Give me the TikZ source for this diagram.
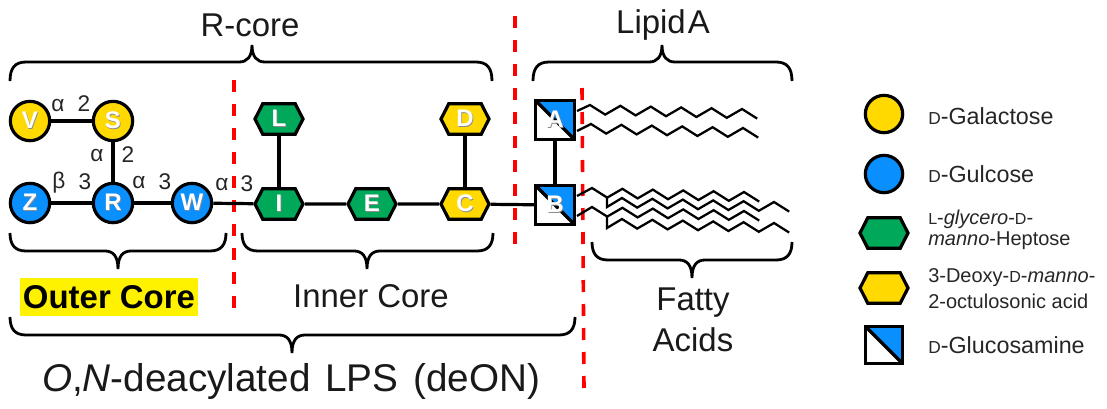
\documentclass[tikz,border=0pt]{standalone}
\usepackage{fontspec}
\setmainfont{Liberation Sans}
\usetikzlibrary{shapes.symbols,backgrounds}
\definecolor{galyellow}{HTML}{FFD900}
\definecolor{glcblue}{HTML}{0A8FFF}
\definecolor{hepgreen}{HTML}{00A85A}
\newcommand{\shd}[1]{\makebox[0pt]{\raisebox{-0.9pt}{\hspace{1pt}\textcolor{black!45}{#1}}}\makebox[0pt]{#1}}
\newcommand{\bracedown}[4]{% x1 x2 tip y (opening down)
  \draw[bracel] (#1,#4+19) .. controls (#1,#4+6) and (#1+5,#4) .. (#1+16,#4) -- (#3-13,#4) .. controls (#3-5,#4) and (#3,#4-5) .. (#3,#4-17) .. controls (#3,#4-5) and (#3+5,#4) .. (#3+13,#4) -- (#2-16,#4) .. controls (#2-5,#4) and (#2,#4+6) .. (#2,#4+19);}
\newcommand{\braceup}[4]{% x1 x2 tip y (opening up)
  \draw[bracel] (#1,#4-18) .. controls (#1,#4-6) and (#1+5,#4) .. (#1+16,#4) -- (#3-13,#4) .. controls (#3-5,#4) and (#3,#4+5) .. (#3,#4+18) .. controls (#3,#4+5) and (#3+5,#4) .. (#3+13,#4) -- (#2-16,#4) .. controls (#2-5,#4) and (#2,#4-6) .. (#2,#4-18);}
\newcommand{\zigchain}[3]{\draw[chain] #1 -- plot[samples at={0,...,11},variable=\t] ({#2+15.2*\t},{#3+0.4*\t+9.2*mod(\t,2)});}
\tikzset{
  x=0.75pt,y=-0.75pt,
  bond/.style={draw=black,line width=2.4pt},
  chain/.style={draw=black,line width=1.7pt,line join=miter},
  bracel/.style={draw=black,line width=2.1pt},
  cut/.style={draw=red,line width=2.7pt,dash pattern=on 9pt off 9pt},
  sugar/.style={draw=black,line width=2.4pt,text=white,font=\bfseries\fontsize{18}{18}\selectfont,inner sep=0pt},
  circ/.style={sugar,circle,minimum size=29.5pt},
  hex/.style={sugar,signal,signal to=east and west,signal pointer angle=126,minimum width=36pt,minimum height=23pt},
  sq/.style={sugar,rectangle,minimum size=29pt,path picture={
    \fill[glcblue] (path picture bounding box.north west) -- (path picture bounding box.north east) -- (path picture bounding box.south east) -- cycle;
    \draw[black,line width=2.4pt] (path picture bounding box.north west) -- (path picture bounding box.south east);}},
  lab/.style={font=\fontsize{17}{17}\selectfont,text=black!85,inner sep=0pt},
  big/.style={font=\fontsize{24.7}{24.7}\selectfont,inner sep=0pt,text=black!90},
  leg/.style={font=\fontsize{17.5}{17.5}\selectfont,anchor=west,inner sep=0pt,text=black!85},
  legs/.style={font=\fontsize{15}{15}\selectfont,anchor=west,inner sep=0pt,text=black!85},
}
\newcommand{\smD}{{\fontsize{13}{13}\selectfont D}}
\newcommand{\smDs}{{\fontsize{12}{12}\selectfont D}}
\newcommand{\smLs}{{\fontsize{12}{12}\selectfont L}}
\begin{document}
\begin{tikzpicture}
\useasboundingbox (0,0) rectangle (1107,408);
% highlighted title and cuts behind
\begin{pgfonlayer}{background}
\fill[yellow] (20,278) rectangle (198,316);
\draw[cut] (234,80) -- (234,308);
\draw[cut] (515,16) -- (515,250);
\draw[cut] (582,88) -- (584,390);
\end{pgfonlayer}
% sugars
\node[circ,fill=galyellow] (V) at (30,121) {\shd{V}};
\node[circ,fill=galyellow] (S) at (113,121) {\shd{S}};
\node[circ,fill=glcblue] (Z) at (30,203) {\shd{Z}};
\node[circ,fill=glcblue] (R) at (113,203) {\shd{R}};
\node[circ,fill=glcblue] (W) at (192,203) {\shd{W}};
\node[hex,fill=hepgreen] (L) at (279,119) {\shd{L}};
\node[hex,fill=hepgreen] (I) at (279,204) {\shd{I}};
\node[hex,fill=hepgreen] (E) at (372,204) {\shd{E}};
\node[hex,fill=galyellow] (D) at (465,119) {\shd{D}};
\node[hex,fill=galyellow] (C) at (465,204) {\shd{C}};
\node[sq] (A) at (555,120) {\shd{A}};
\node[sq] (B) at (555,205) {\shd{B}};
% bonds
\foreach \p/\q in {V/S,S/R,Z/R,R/W,W/I,I/E,E/C,C/B,L/I,D/C,A/B}
  \draw[bond] (\p) -- (\q);
% linkage labels
\foreach \n/\x/\y/\t in {a1/58/106/α,a2/84/104/2,a3/97/156/α,a4/128/155/2,a5/59/183/β,a6/85/182/3,a7/139/183/α,a8/165/182/3,a9/222/185/α,a10/247/184/3}
  \node[lab] (\n) at (\x,\y) {\t};
% fatty acid chains
\zigchain{(577,111)}{590}{105}
\zigchain{(577,131)}{591}{124}
\zigchain{(577,196)}{592}{188}
\zigchain{(577,216)}{592}{207}
\zigchain{(607,197) -- (607,207)}{622}{198}
\zigchain{(607,217) -- (607,228)}{622}{219}
% braces
\bracedown{10}{492}{252}{62}
\bracedown{533}{792}{662}{62}
\braceup{10}{226}{118}{251}
\braceup{242}{493}{367}{251}
\braceup{592}{792}{692}{260}
\braceup{10}{575}{292}{335}
% titles
\node[big] (rcore) at (250,25) {R-core};
\node[big] (lipa) at (663,25) {Lipid\hspace{1.5pt}A};
\node[big,text=black,font=\bfseries\fontsize{24.7}{24.7}\selectfont] (outer) at (109,297) {Outer Core};
\node[big] (inner) at (371,296) {Inner Core};
\node[big,align=center,font=\fontsize{24.7}{31}\selectfont] (fatty) at (693,320) {Fatty\\Acids};
\node[big,font=\fontsize{29}{29}\selectfont] (deon) at (291,381) {\textit{O},\textit{N}-deacylated\hspace{3pt} LPS\hspace{3pt} (deON)};
% legend
\node[circ,fill=galyellow,minimum size=28pt] (k1) at (884,114) {};
\node[circ,fill=glcblue,minimum size=28pt] (k2) at (884,174) {};
\node[hex,fill=hepgreen] (k3) at (884,233) {};
\node[hex,fill=galyellow] (k4) at (884,288) {};
\node[sq,minimum size=28pt] (k5) at (884,345) {};
\node[leg] (t1) at (928,116) {\smD-Galactose};
\node[leg] (t2) at (928,174) {\smD-Gulcose};
\node[legs] (t3) at (928,219) {\smLs-\textit{glycero}-\smDs-};
\node[legs] (t3b) at (928,241) {\textit{manno}-Heptose};
\node[legs] (t4) at (928,278) {3-Deoxy-\smDs-\textit{manno}-};
\node[legs] (t4b) at (928,301) {2-octulosonic acid};
\node[leg] (t5) at (928,345) {\smD-Glucosamine};
\end{tikzpicture}
\end{document}
